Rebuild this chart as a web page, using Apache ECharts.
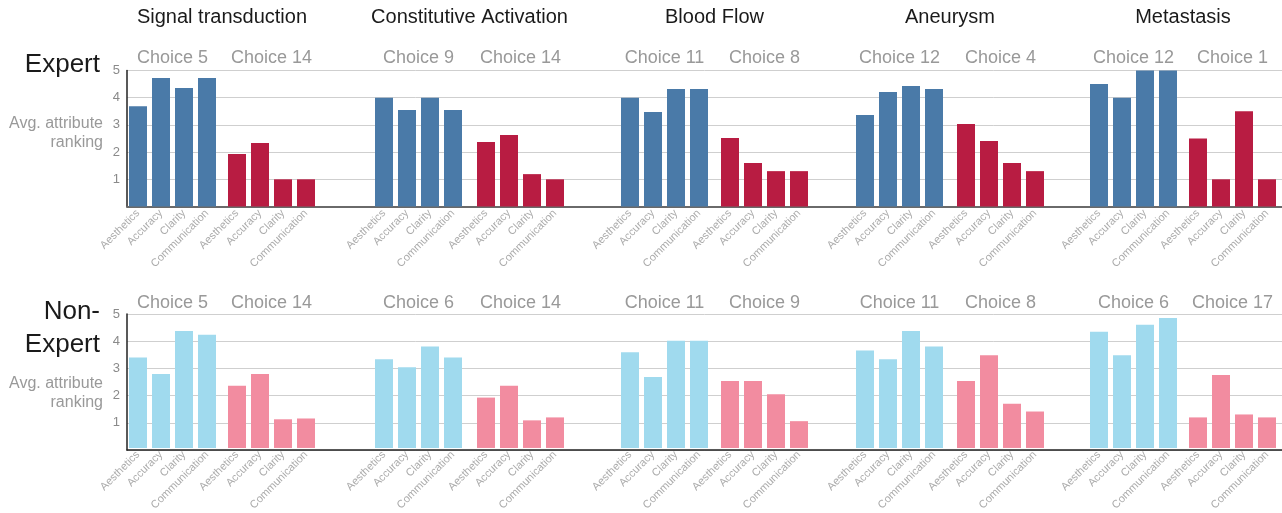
<!DOCTYPE html>
<html>
<head>
<meta charset="utf-8">
<script src="https://cdn.jsdelivr.net/npm/echarts@6/dist/echarts.min.js"></script>
<style>html,body{margin:0;padding:0;background:#fff}#c{width:1282px;height:513px}</style>
</head>
<body>
<div id="c"></div>
<script>
// ---- data ----
const attributes = ['Aesthetics', 'Accuracy', 'Clarity', 'Communication'];
const topics = ['Signal transduction', 'Constitutive Activation', 'Blood Flow', 'Aneurysm', 'Metastasis'];
const yTicks = [1, 2, 3, 4, 5];

const expertChoiceA = ['Choice 5', 'Choice 9', 'Choice 11', 'Choice 12', 'Choice 12'];
const expertChoiceB = ['Choice 14', 'Choice 14', 'Choice 8', 'Choice 4', 'Choice 1'];
const nonExpertChoiceA = ['Choice 5', 'Choice 6', 'Choice 11', 'Choice 11', 'Choice 6'];
const nonExpertChoiceB = ['Choice 14', 'Choice 14', 'Choice 9', 'Choice 8', 'Choice 17'];

const expertA = [
  [3.69, 4.72, 4.36, 4.72],
  [4.0, 3.55, 4.0, 3.55],
  [4.0, 3.47, 4.32, 4.32],
  [3.36, 4.21, 4.43, 4.32],
  [4.5, 4.0, 5.0, 5.0]
];
const expertB = [
  [1.93, 2.33, 1.0, 1.0],
  [2.37, 2.63, 1.19, 1.0],
  [2.52, 1.6, 1.3, 1.3],
  [3.03, 2.41, 1.6, 1.3],
  [2.5, 1.0, 3.5, 1.0]
];
const nonExpertA = [
  [3.38, 2.76, 4.37, 4.23],
  [3.31, 3.01, 3.79, 3.38],
  [3.57, 2.65, 4.0, 4.0],
  [3.64, 3.31, 4.37, 3.79],
  [4.34, 3.46, 4.6, 4.85]
];
const nonExpertB = [
  [2.32, 2.76, 1.07, 1.1],
  [1.88, 2.32, 1.03, 1.14],
  [2.5, 2.5, 2.0, 1.0],
  [2.5, 3.46, 1.65, 1.36],
  [1.14, 2.72, 1.25, 1.14]
];

// ---- layout ----
const FONT = '"Helvetica Neue", Helvetica, "Liberation Sans", Arial, sans-serif';
const leftA = [126.5, 372.5, 618.5, 853.5, 1087.5];
const leftB = [225.5, 474.5, 718.5, 954.5, 1186.5];
const groupW = 92;
const rows = [
  { top: 70.5, height: 136, label: 'Expert', labelY: 65, choiceY: 58, avgY: 133,
    A: expertA, B: expertB, cA: expertChoiceA, cB: expertChoiceB,
    colA: '#4a7aa8', colB: '#b81c42', base: '#6a6a6a', baseW: 2 },
  { top: 314, height: 136, label: 'Non-\nExpert', labelY: 328, choiceY: 303, avgY: 393,
    A: nonExpertA, B: nonExpertB, cA: nonExpertChoiceA, cB: nonExpertChoiceB,
    colA: '#a0daee', colB: '#f28ca0', base: '#222', baseW: 1.5 }
];

const grid = [], xAxis = [], yAxis = [], series = [], graphic = [];

rows.forEach((r, ri) => {
  // background grid with gridlines and y axis
  const bg = grid.length;
  grid.push({ left: 127, right: 0, top: r.top, height: r.height, containLabel: false });
  xAxis.push({ gridIndex: bg, type: 'value', min: 0, max: 1, show: true,
    axisLine: { show: true, lineStyle: { color: r.base, width: r.baseW } },
    axisTick: { show: false }, axisLabel: { show: false }, splitLine: { show: false } });
  yAxis.push({ gridIndex: bg, type: 'value', min: 0, max: yTicks[yTicks.length - 1], interval: 1,
    axisLine: { show: true, lineStyle: { color: '#222', width: 1.5 } },
    axisTick: { show: false },
    axisLabel: { color: '#8a8a8a', fontSize: 13, fontFamily: FONT, margin: 7,
      formatter: v => (yTicks.indexOf(v) >= 0 ? String(v) : '') },
    splitLine: { show: true, lineStyle: { color: '#cfcfcf', width: 1 } } });

  const addGroup = (left, vals, color, choice) => {
    const gi = grid.length;
    grid.push({ left: left, width: groupW, top: r.top, height: r.height });
    xAxis.push({ gridIndex: gi, type: 'category', data: attributes,
      axisLine: { show: false }, axisTick: { show: false }, splitLine: { show: false },
      axisLabel: { rotate: 45, interval: 0, color: '#ababab', fontSize: 11, fontFamily: FONT, margin: 5 } });
    yAxis.push({ gridIndex: gi, type: 'value', min: 0, max: 5, show: false, splitLine: { show: false } });
    series.push({ type: 'bar', xAxisIndex: gi, yAxisIndex: gi, data: vals, barWidth: 18,
      itemStyle: { color: color }, silent: true, animation: false });
    graphic.push({ type: 'text', x: left + groupW / 2, y: r.choiceY,
      style: { text: choice, fill: '#999', fontSize: 18, fontFamily: FONT, align: 'center', verticalAlign: 'middle' } });
  };

  for (let t = 0; t < topics.length; t++) {
    addGroup(leftA[t], r.A[t], r.colA, r.cA[t]);
    addGroup(leftB[t], r.B[t], r.colB, r.cB[t]);
  }

  graphic.push({ type: 'text', x: 100, y: r.labelY,
    style: { text: r.label, fill: '#1a1a1a', fontSize: 26, fontFamily: FONT, align: 'right', verticalAlign: 'middle', lineHeight: 33 } });
  graphic.push({ type: 'text', x: 103, y: r.avgY,
    style: { text: 'Avg. attribute\nranking', fill: '#999', fontSize: 16, fontFamily: FONT, align: 'right', verticalAlign: 'middle', lineHeight: 19 } });
});

topics.forEach((t, i) => {
  graphic.push({ type: 'text', x: (leftA[i] + leftB[i] + groupW) / 2, y: 17,
    style: { text: t, fill: '#1a1a1a', fontSize: 20, fontFamily: FONT, align: 'center', verticalAlign: 'middle' } });
});

const chart = echarts.init(document.getElementById('c'), null, { renderer: 'canvas' });
chart.setOption({ animation: false, grid, xAxis, yAxis, series, graphic });
</script>
</body>
</html>
